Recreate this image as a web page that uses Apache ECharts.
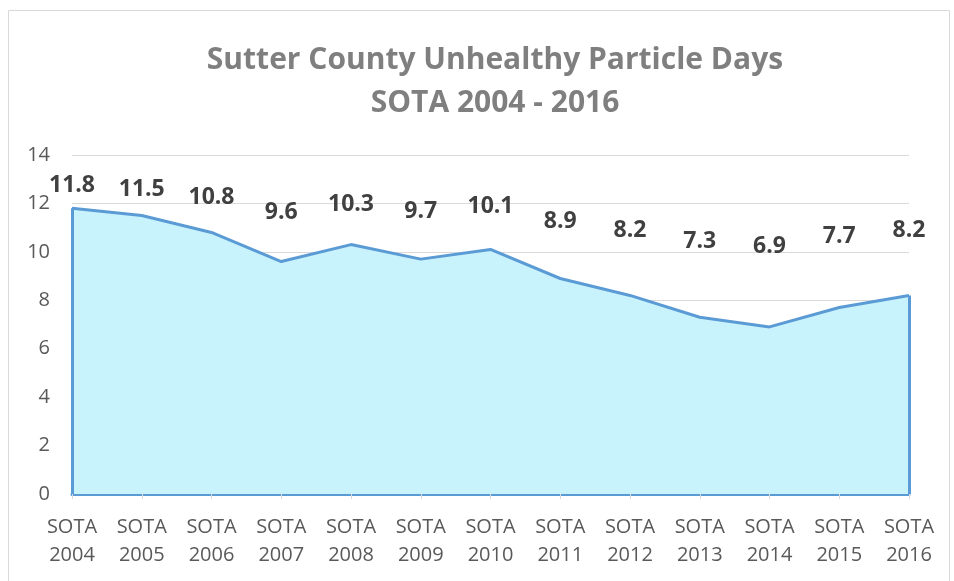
<!DOCTYPE html>
<html><head><meta charset="utf-8">
<script src="https://cdn.jsdelivr.net/npm/echarts@6/dist/echarts.min.js"></script>
<style>html,body{margin:0;padding:0;background:#fff}#c{width:954px;height:581px}</style>
</head><body><div id="c"></div>
<script>
const titleLines = ['Sutter County Unhealthy Particle Days', 'SOTA 2004 - 2016'];
const categories = ['SOTA\n2004','SOTA\n2005','SOTA\n2006','SOTA\n2007','SOTA\n2008','SOTA\n2009','SOTA\n2010','SOTA\n2011','SOTA\n2012','SOTA\n2013','SOTA\n2014','SOTA\n2015','SOTA\n2016'];
const values = [11.8, 11.5, 10.8, 9.6, 10.3, 9.7, 10.1, 8.9, 8.2, 7.3, 6.9, 7.7, 8.2];
const yTicks = [0, 2, 4, 6, 8, 10, 12, 14];

const chart = echarts.init(document.getElementById('c'));
const lineColor = '#5b9bd5';
const font = '"Open Sans", "Noto Sans", sans-serif';
const last = categories.length - 1;
chart.setOption({
  animation: false,
  backgroundColor: '#fff',
  graphic: [{
    type: 'rect', shape: {x: 8.5, y: 10.5, width: 941, height: 572},
    style: {fill: 'none', stroke: '#d9d9d9', lineWidth: 1}, silent: true
  }],
  title: {
    text: titleLines.join('\n'),
    left: 490, textAlign: 'center', top: 34,
    textStyle: {fontFamily: font, fontWeight: 'bold', fontSize: 30, color: '#7f7f7f', lineHeight: 43}
  },
  grid: {left: 72, right: 45, top: 155, bottom: 87, containLabel: false},
  xAxis: {
    type: 'category', data: categories, boundaryGap: false,
    axisLine: {show: true, lineStyle: {color: lineColor, width: 3}},
    axisTick: {show: true, alignWithLabel: true, length: 5, lineStyle: {color: '#d9d9d9'}},
    axisLabel: {color: '#595959', fontSize: 20, fontFamily: font, margin: 19, lineHeight: 28, interval: 0}
  },
  yAxis: [{
    type: 'value', min: yTicks[0], max: yTicks[yTicks.length - 1], interval: 2,
    axisLine: {show: false}, axisTick: {show: false},
    splitLine: {lineStyle: {color: '#d9d9d9', width: 1}},
    axisLabel: {color: '#595959', fontSize: 20, fontFamily: font, margin: 22}
  }, {
    type: 'value', min: -13, max: 14.25, show: false, splitLine: {show: false}
  }],
  series: [{
    type: 'line', data: values, yAxisIndex: 0,
    symbol: 'none', smooth: false,
    lineStyle: {color: lineColor, width: 3},
    areaStyle: {color: '#c9f3fc', opacity: 1},
    markLine: {
      silent: true, symbol: 'none', label: {show: false},
      lineStyle: {color: lineColor, width: 3, type: 'solid'},
      data: [
        [{coord: [0, 0]}, {coord: [0, values[0]]}],
        [{coord: [last, 0]}, {coord: [last, values[last]]}]
      ]
    },
    z: 2
  }, {
    type: 'line', data: values, yAxisIndex: 1,
    symbol: 'circle', symbolSize: 2, showSymbol: true,
    lineStyle: {color: 'rgba(0,0,0,0)', width: 0}, itemStyle: {color: 'rgba(0,0,0,0)', borderWidth: 0},
    label: {show: true, position: 'inside', color: '#404040', fontWeight: 'bold', fontSize: 23, fontFamily: font,
      formatter: p => p.value.toFixed(1)},
    z: 5, silent: true
  }]
});
</script></body></html>
